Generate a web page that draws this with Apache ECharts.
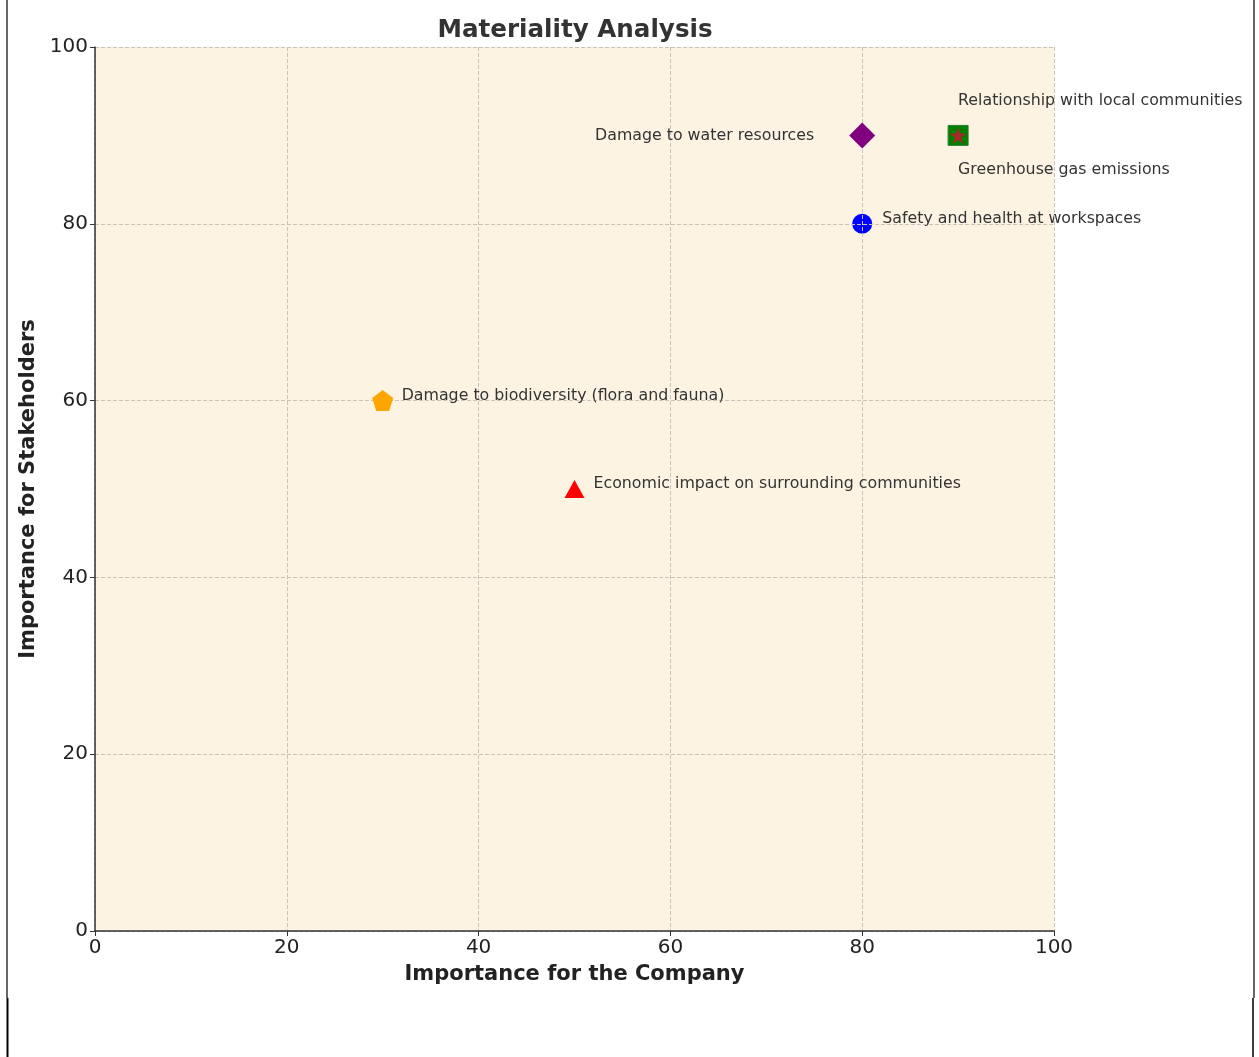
<!DOCTYPE html>
<html>
<head>
<meta charset="utf-8">
<script src="https://cdn.jsdelivr.net/npm/echarts@6/dist/echarts.min.js"></script>
<style>
  html, body { margin: 0; padding: 0; background: #fff; }
  #chart { width: 1259px; height: 1057px; }
</style>
</head>
<body>
<div id="chart"></div>
<script>
// data
const topics = [
    'Damage to water resources',
    'Relationship with local communities',
    'Greenhouse gas emissions',
    'Safety and health at workspaces',
    'Damage to biodiversity (flora and fauna)',
    'Economic impact on surrounding communities'
]
const companyScores = [80, 90, 90, 80, 30, 50]
const stakeholderScores = [90, 90, 90, 80, 60, 50]

// how each marker looks (the circle sits under the grid, the rest on top)
const markers = [
    { symbol: 'path://M0,-1L1,0L0,1L-1,0Z', size: 26, color: '#800080', border: null, z: 12 },
    { symbol: 'rect', size: 20, color: '#008000', border: '#2e7d32', z: 13 },
    { symbol: 'path://M0,-1L0.2245,-0.309L0.951,-0.309L0.363,0.118L0.588,0.809L0,0.382L-0.588,0.809L-0.363,0.118L-0.951,-0.309L-0.2245,-0.309Z', size: 17, color: '#a52a2a', border: null, z: 14 },
    { symbol: 'circle', size: 20, color: '#0000ff', border: null, z: 3 },
    { symbol: 'path://M0,-1L0.951,-0.309L0.588,0.809L-0.588,0.809L-0.951,-0.309Z', size: 21, color: '#ffa500', border: null, z: 12 },
    { symbol: 'triangle', size: [20, 18], color: '#ff0000', border: null, z: 12 }
]
// label placement relative to the marker centre
const labelPos = [
    { align: 'right', offset: [-48, 0] },
    { align: 'left', offset: [0, -35] },
    { align: 'left', offset: [0, 34] },
    { align: 'left', offset: [20, -5] },
    { align: 'left', offset: [19, -5] },
    { align: 'left', offset: [19, -5] }
]

const font = 'DejaVu Sans'

const series = topics.map((name, i) => {
    return {
        name: name,
        type: 'scatter',
        z: markers[i].z,
        symbol: markers[i].symbol,
        symbolSize: markers[i].size,
        itemStyle: {
            color: markers[i].color,
            borderColor: markers[i].border || markers[i].color,
            borderWidth: markers[i].border ? 1 : 0,
            opacity: 1
        },
        label: {
            show: true,
            position: 'inside',
            align: labelPos[i].align,
            verticalAlign: 'middle',
            offset: labelPos[i].offset,
            formatter: name,
            color: '#333',
            fontFamily: font,
            fontSize: 15.8
        },
        emphasis: { disabled: true },
        data: [[companyScores[i], stakeholderScores[i]]]
    }
})

let myChart = echarts.init(document.getElementById('chart'))
myChart.setOption({
    animation: false,
    backgroundColor: '#fff',
    textStyle: { fontFamily: font },
    title: {
        text: 'Materiality Analysis',
        left: 570,
        top: 13,
        textAlign: 'center',
        textStyle: {
            fontFamily: font,
            fontSize: 24.6,
            fontWeight: 'bold',
            color: '#333'
        }
    },
    grid: {
        left: 95,
        top: 47,
        right: 205,
        bottom: 126,
        show: true,
        backgroundColor: '#fdf3e3',
        borderWidth: 0
    },
    xAxis: {
        type: 'value',
        min: 0,
        max: 100,
        interval: 20,
        z: 10,
        name: 'Importance for the Company',
        nameLocation: 'middle',
        nameGap: 33,
        nameTextStyle: { fontFamily: font, fontSize: 21, fontWeight: 'bold', color: '#222' },
        axisLine: { show: true, lineStyle: { color: '#333', width: 1.5 } },
        axisTick: { show: true, inside: false, length: 5, lineStyle: { color: '#333' } },
        axisLabel: { margin: 7, fontFamily: font, fontSize: 20, color: '#222' },
        splitLine: { show: true, lineStyle: { color: '#c9c3bb', width: 1, type: [4, 2] } }
    },
    yAxis: {
        type: 'value',
        min: 0,
        max: 100,
        interval: 20,
        z: 10,
        name: 'Importance for Stakeholders',
        nameLocation: 'middle',
        nameGap: 55,
        nameTextStyle: { fontFamily: font, fontSize: 21, fontWeight: 'bold', color: '#222' },
        axisLine: { show: true, lineStyle: { color: '#333', width: 1.5 } },
        axisTick: { show: true, inside: false, length: 5, lineStyle: { color: '#333' } },
        axisLabel: { margin: 7, fontFamily: font, fontSize: 20, color: '#222' },
        splitLine: { show: true, lineStyle: { color: '#c9c3bb', width: 1, type: [4, 2] } }
    },
    graphic: [
        // frame edges visible in the picture
        { type: 'line', shape: { x1: 7, y1: 0, x2: 7, y2: 998 }, style: { stroke: '#000', lineWidth: 1.2 } },
        { type: 'line', shape: { x1: 7.5, y1: 998, x2: 7.5, y2: 1057 }, style: { stroke: '#000', lineWidth: 2 } },
        { type: 'line', shape: { x1: 1254, y1: 0, x2: 1254, y2: 998 }, style: { stroke: '#000', lineWidth: 1.2 } },
        { type: 'line', shape: { x1: 1253, y1: 998, x2: 1253, y2: 1057 }, style: { stroke: '#000', lineWidth: 1.5 } }
    ],
    series: series
})
</script>
</body>
</html>
